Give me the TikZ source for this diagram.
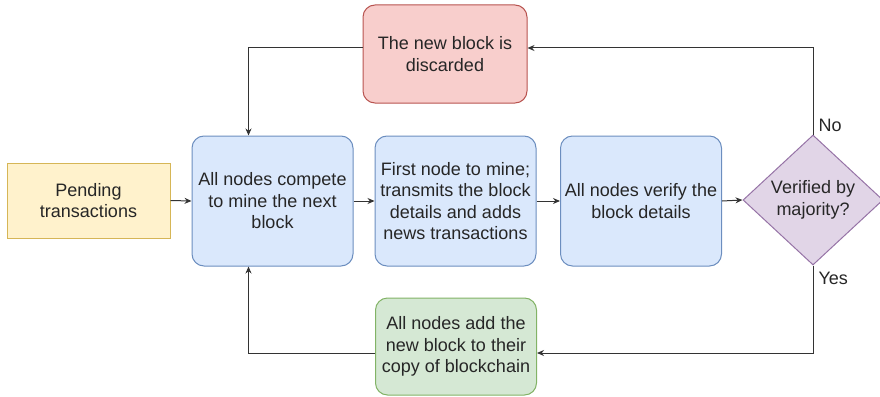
\documentclass[tikz,border=0pt]{standalone}
\usepackage{fontspec}
\setmainfont{Liberation Sans}
\usetikzlibrary{shapes.geometric}
\usetikzlibrary{arrows.meta}

\definecolor{yelfill}{HTML}{FFF2CC}
\definecolor{yelline}{HTML}{D6B656}
\definecolor{bluefill}{HTML}{DAE8FC}
\definecolor{blueline}{HTML}{6C8EBF}
\definecolor{redfill}{HTML}{F8CECC}
\definecolor{redline}{HTML}{B85450}
\definecolor{grnfill}{HTML}{D5E8D4}
\definecolor{grnline}{HTML}{82B366}
\definecolor{purfill}{HTML}{E1D5E7}
\definecolor{purline}{HTML}{9673A6}
\definecolor{linecol}{HTML}{333333}

\begin{document}
\begin{tikzpicture}[x=1pt, y=-1pt,
		every node/.style={font=\fontsize{18}{21.5}\selectfont, align=center, text=black!85},
		stepbox/.style={draw=blueline, fill=bluefill, line width=1pt, rounded corners=12pt,
			minimum width=161pt, minimum height=130pt, inner sep=2pt},
		link/.style={draw=linecol, line width=1pt, -{Stealth[length=7pt,width=6pt]}}]
				\useasboundingbox (0,0) rectangle (880,396);
				
				% Start box
				\node[draw=yelline, fill=yelfill, line width=1pt, minimum width=163pt, minimum height=75pt] (pend) at (88.5,200.5) {Pending\\transactions};
				
				% Main row of steps
				\node[stepbox] (mine) at (272.5,201) {All nodes compete\\to mine the next\\block};
				\node[stepbox] (first) at (455.5,201) {First node to mine;\\transmits the block\\details and adds\\news transactions};
				\node[stepbox] (verify) at (641,201) {All nodes verify the\\block details};
				
				% Decision
				\node[diamond, draw=purline, fill=purfill, line width=1pt, minimum width=140pt, minimum height=130pt, inner sep=0pt] (major) at (813,200) {Verified by\\majority?};
				
				% Outcomes
				\node[stepbox, draw=redline, fill=redfill, minimum width=164pt, minimum height=98pt] (discard) at (445,54) {The new block is\\discarded};
				\node[stepbox, draw=grnline, fill=grnfill, minimum height=97pt] (add) at (456,346.5) {All nodes add the\\new block to their\\copy of blockchain};
				
				% Arrows along the row
				\draw[link] (pend.east) -- (mine.west);
				\draw[link] (mine.east) -- (first.west);
				\draw[link] (first.east) -- (verify.west);
				\draw[link] (verify.east) -- (major.west);
				
				% No branch
				\draw[link] (major.north) |- ([yshift=6pt]discard.east);
				\draw[link] ([yshift=6pt]discard.west) -| ([xshift=-24pt]mine.north);
				\node[anchor=west] (nolab) at (815,125) {No};
				
				% Yes branch
				\draw[link] (major.south) |- ([yshift=-6.5pt]add.east);
				\draw[link] ([yshift=-6.5pt]add.west) -| ([xshift=-24pt]mine.south);
				\node[anchor=west] (yeslab) at (815,278) {Yes};
			\end{tikzpicture}
\end{document}
